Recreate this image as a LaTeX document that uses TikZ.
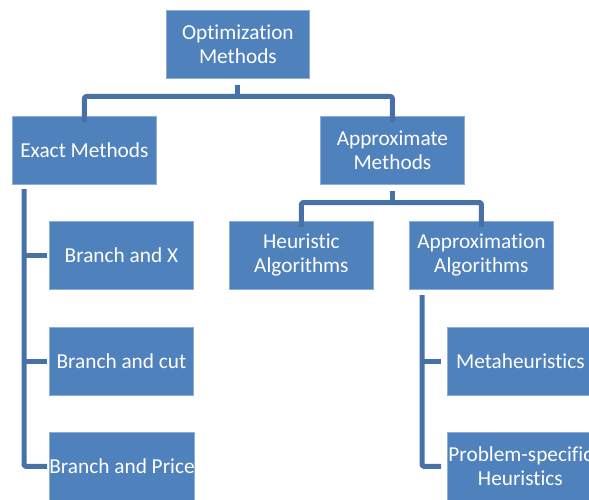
\documentclass[tikz,border=0pt]{standalone}
\usepackage{fontspec}
\setmainfont[Ligatures=NoCommon]{Carlito}
\definecolor{boxfill}{HTML}{4F81BD}
\definecolor{boxedge}{HTML}{8EAEDA}
\definecolor{linkblue}{HTML}{4672A8}
\begin{document}
\begin{tikzpicture}[x=1pt,y=-1pt,
  box/.style={draw=boxedge,line width=0.8pt,fill=boxfill,text=white,
    minimum width=144pt,minimum height=68pt,inner sep=0pt,align=center,
    font=\fontsize{21.3}{24}\selectfont,anchor=north west},
  link/.style={draw=linkblue,line width=5pt,line cap=butt,line join=round,rounded corners=2pt}]
\useasboundingbox (0,0) rectangle (589,500);
\clip (0,0) rectangle (589,500);

% tree nodes
\node[box,minimum width=143pt] (opt) at (166,10) {Optimization\\Methods};
\node[box] (exact) at (12,116) {Exact Methods};
\node[box] (approx) at (320,116) {Approximate\\Methods};
\node[box] (bx) at (49,221) {Branch and X};
\node[box] (bc) at (49,327) {Branch and cut};
\node[box] (bp) at (49,432) {Branch and Price};
\node[box] (heur) at (229,221) {Heuristic\\Algorithms};
\node[box] (approxalg) at (409,221) {Approximation\\Algorithms};
\node[box,minimum width=146pt] (meta) at (447,327) {Metaheuristics};
\node[box,minimum width=146pt] (prob) at (447,432) {Problem-specific\\Heuristics};

% root to first level
\coordinate (rj) at (opt.south |- 0,96.5);
\draw[link] ([yshift=-6pt]opt.south) -- (rj);
\draw[link] ([yshift=-6pt]exact.north) |- (rj) -| ([yshift=-6pt]approx.north);

% approximate methods to its children
\coordinate (aj) at (approx.south |- 0,202.5);
\draw[link] ([yshift=-6pt]approx.south) -- (aj);
\draw[link] ([yshift=-6pt]heur.north) |- (aj) -| ([yshift=-6pt]approxalg.north);

% exact methods side bar
\coordinate (eb) at (24,189);
\draw[link] (eb) |- ([xshift=-2pt]bp.west);
\draw[link] (eb |- bx.west) -- ([xshift=-2pt]bx.west);
\draw[link] (eb |- bc.west) -- ([xshift=-2pt]bc.west);

% approximation algorithms side bar
\coordinate (ab) at (422,295);
\draw[link] (ab) |- ([xshift=-6pt]prob.west);
\draw[link] (ab |- meta.west) -- ([xshift=-6pt]meta.west);
\end{tikzpicture}
\end{document}
